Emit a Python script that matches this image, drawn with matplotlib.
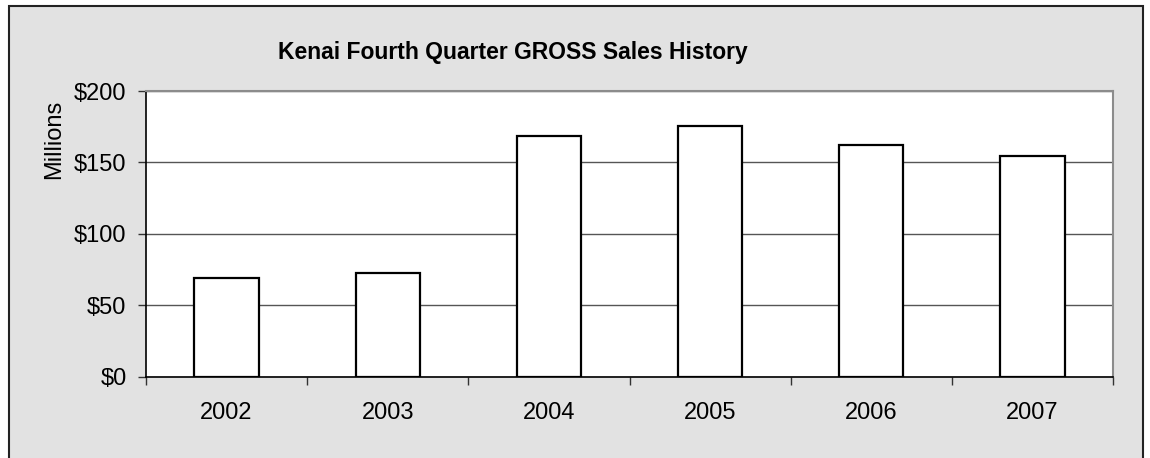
import matplotlib
matplotlib.use('Agg')
import matplotlib.pyplot as plt
from matplotlib.patches import Rectangle
from matplotlib.ticker import FuncFormatter

plt.rcParams['font.family'] = ['Liberation Sans', 'DejaVu Sans']

# Datos (millones de dólares)
years = ['2002', '2003', '2004', '2005', '2006', '2007']
sales = [68.9, 72.8, 168.8, 175.8, 162.3, 154.3]
y_ticks = [0, 50, 100, 150, 200]

W, H = 1150, 458
fig = plt.figure(figsize=(W / 100, H / 100), dpi=100)
fig.patch.set_facecolor('white')

# marco gris del gráfico
frame = Rectangle((8.5 / W, -0.05), (1143 - 8.5) / W, 1.05 - 6.5 / H,
                  transform=fig.transFigure, facecolor='#e2e2e2',
                  edgecolor='#222222', linewidth=1.5, zorder=-1)
fig.patches.append(frame)

ax = fig.add_axes([146 / W, 1 - 376.7 / H, (1113 - 146) / W, (376.7 - 91.1) / H])
ax.set_zorder(2)
ax.set_facecolor('white')

x = list(range(len(years)))
ax.bar(x, sales, width=0.4, color='white', edgecolor='black', linewidth=1.6, zorder=3)

ax.set_xlim(-0.5, len(years) - 0.5)
ax.set_ylim(0, 200)
ax.set_yticks(y_ticks)
ax.yaxis.set_major_formatter(FuncFormatter(lambda v, p: f'${v:.0f}'))
ax.yaxis.grid(True, color='#555555', linewidth=1.0, zorder=1)
ax.set_axisbelow(True)

# ticks mayores en los límites de categoría, etiquetas en el centro
ax.set_xticks([i - 0.5 for i in range(len(years) + 1)])
ax.set_xticklabels([])
ax.set_xticks(x, minor=True)
ax.set_xticklabels(years, minor=True)
ax.tick_params(axis='x', which='major', length=6, width=1, color='#333333', direction='out')
ax.tick_params(axis='x', which='minor', length=0, pad=18, labelsize=17)
ax.tick_params(axis='y', length=6, width=1, color='#333333', direction='out', pad=8, labelsize=17)

for s in ['top', 'right']:
    ax.spines[s].set_color('#8c8c8c')
    ax.spines[s].set_linewidth(1.5)
for s in ['left', 'bottom']:
    ax.spines[s].set_color('black')
    ax.spines[s].set_linewidth(1.2)

fig.text(54 / W, 1 - 139 / H, 'Millions', rotation=90, ha='center', va='center', fontsize=17)
fig.text(513 / W, 1 - 59.3 / H, 'Kenai Fourth Quarter GROSS Sales History',
         ha='center', va='baseline', fontsize=16.5, fontweight='bold')

fig.savefig('out.png', dpi=100)
